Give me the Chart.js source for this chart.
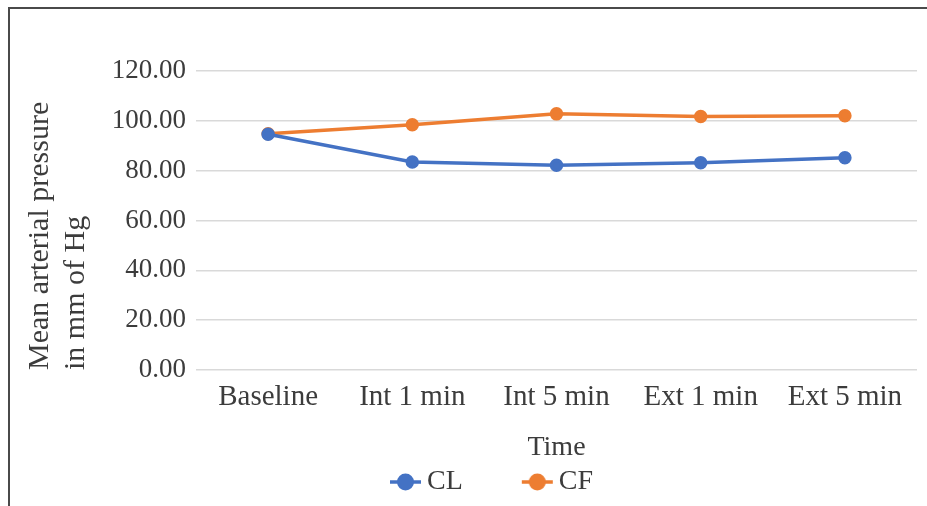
<!DOCTYPE html>
<html>
<head>
<meta charset="utf-8">
<script src="https://cdn.jsdelivr.net/npm/chart.js@4.4.1/dist/chart.umd.min.js"></script>
<style>
  html, body { margin: 0; padding: 0; background: #ffffff; }
  #wrap { position: relative; width: 927px; height: 506px; overflow: hidden; }
  #frame { position: absolute; left: 8px; top: 7px; width: 940px; height: 520px;
           border-left: 2px solid #4a4a4a; border-top: 2px solid #4a4a4a; pointer-events: none; }
  canvas { position: absolute; left: 0; top: 0; }
</style>
</head>
<body>
<div id="wrap">
  <canvas id="c" width="927" height="506"></canvas>
  <div id="frame"></div>
</div>
<script>
const categories = ['Baseline', 'Int 1 min', 'Int 5 min', 'Ext 1 min', 'Ext 5 min'];
const seriesNames = ['CL', 'CF'];
const clValues = [94.6, 83.5, 82.2, 83.2, 85.2];
const cfValues = [94.8, 98.4, 102.8, 101.7, 102.0];
const yTickMin = 0;
const yTickMax = 120;
const yTickStep = 20;
const xTitle = 'Time';
const yTitle = ['Mean arterial pressure', 'in mm of Hg'];

const BLUE = '#4472C4';
const ORANGE = '#ED7D31';
const TEXT = '#3c3c3c';
const FONT = "'Liberation Serif', 'Times New Roman', serif";

function legendMarker(color) {
  const c = document.createElement('canvas');
  c.width = 100; c.height = 20;
  const g = c.getContext('2d');
  g.strokeStyle = color; g.lineWidth = 3.5;
  g.beginPath(); g.moveTo(67, 10); g.lineTo(98, 10); g.stroke();
  g.fillStyle = color;
  g.beginPath(); g.arc(82.5, 10, 8.5, 0, Math.PI * 2); g.fill();
  return c;
}
const markers = [legendMarker(BLUE), legendMarker(ORANGE)];

new Chart(document.getElementById('c'), {
  type: 'line',
  data: {
    labels: categories,
    datasets: [
      { label: seriesNames[0], data: clValues, borderColor: BLUE, backgroundColor: BLUE,
        borderWidth: 3.5, pointRadius: 5, pointBackgroundColor: BLUE, pointBorderColor: BLUE, tension: 0 },
      { label: seriesNames[1], data: cfValues, borderColor: ORANGE, backgroundColor: ORANGE,
        borderWidth: 3.5, pointRadius: 5, pointBackgroundColor: ORANGE, pointBorderColor: ORANGE, tension: 0 }
    ]
  },
  options: {
    responsive: false,
    animation: false,
    devicePixelRatio: 1,
    layout: { padding: { left: 9, right: 10, top: 71, bottom: 0 } },
    plugins: {
      tooltip: { enabled: false },
      legend: {
        position: 'bottom',
        labels: {
          usePointStyle: true,
          pointStyleWidth: 80,
          padding: 2,
          color: TEXT,
          font: { family: FONT, size: 28 },
          generateLabels(chart) {
            const items = Chart.defaults.plugins.legend.labels.generateLabels(chart);
            items.forEach((it, i) => { it.pointStyle = markers[i]; });
            return items;
          }
        }
      }
    },
    scales: {
      x: {
        offset: true,
        grid: { display: false, drawTicks: false },
        border: { display: false },
        ticks: { color: TEXT, font: { family: FONT, size: 29 }, padding: 10, maxRotation: 0, autoSkip: false },
        title: { display: true, text: xTitle, color: TEXT, font: { family: FONT, size: 28, lineHeight: 1.0 },
                 padding: { top: 0, bottom: 4 } },
        afterFit(scale) { scale.height = 96; }
      },
      y: {
        min: yTickMin, max: yTickMax,
        grid: { color: '#d9d9d9', lineWidth: 1.5, drawTicks: false },
        border: { display: false },
        ticks: { stepSize: yTickStep, color: TEXT, font: { family: FONT, size: 27 }, padding: 10,
                 callback: v => Number(v).toFixed(2) },
        title: { display: true, text: yTitle, align: 'start', color: TEXT,
                 font: { family: FONT, size: 30, lineHeight: 1.2 }, padding: { top: 13, bottom: 0 } },
        afterFit(scale) { scale.width = 187; }
      }
    }
  }
});
</script>
</body>
</html>
